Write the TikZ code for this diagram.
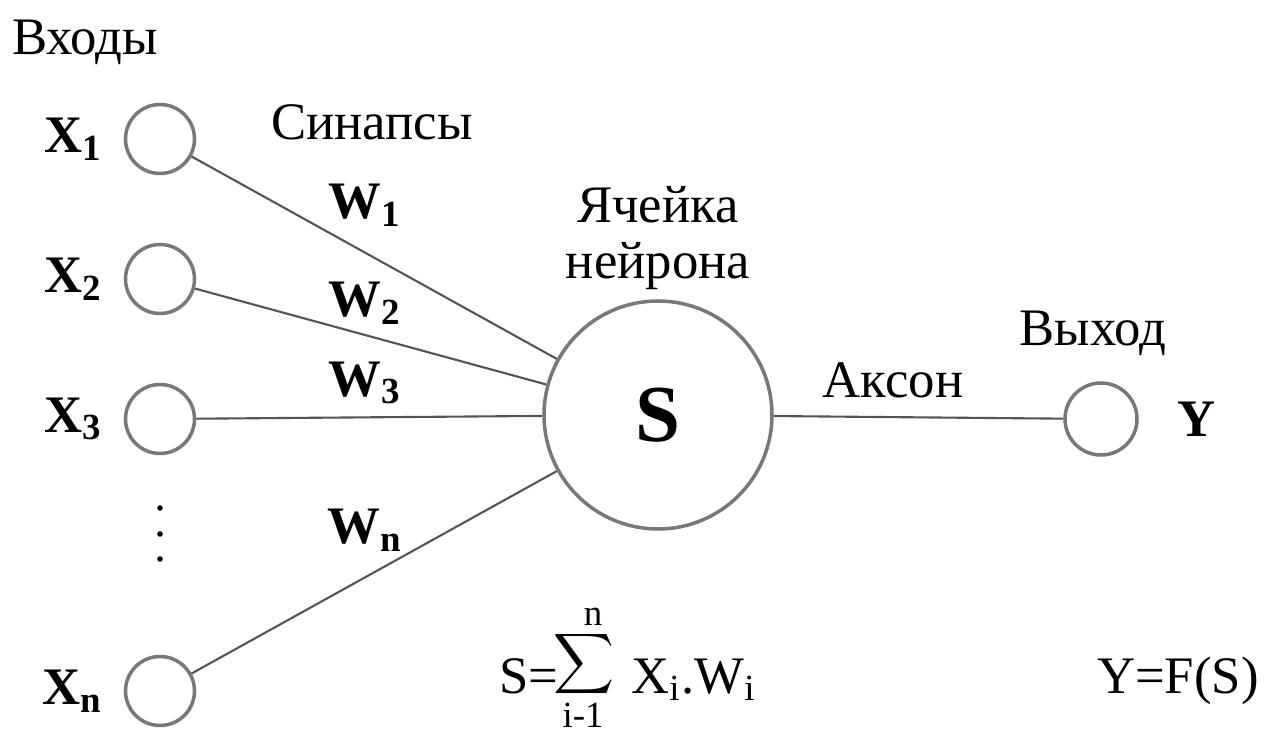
\documentclass[tikz,border=0pt]{standalone}
\usepackage{amsmath}
\usepackage{fontspec}
\setmainfont{Liberation Serif}
\usepackage{tikz}
\usetikzlibrary{positioning}
\definecolor{ringgray}{RGB}{120,120,120}
\definecolor{wiregray}{RGB}{85,85,85}

\begin{document}
\begin{tikzpicture}[thick,
    every node/.style={font=\fontsize{15}{16}\selectfont},
    inp/.style={circle, draw=ringgray, line width=1pt, inner sep=0pt, minimum size=0.69cm},
    wire/.style={draw=wiregray, line width=0.6pt},
    wlabel/.style={font=\fontsize{15}{16}\selectfont\bfseries},
    lim/.style={font=\fontsize{10.5}{12}\selectfont, inner sep=0pt}]
    \useasboundingbox (0,0) rectangle (12.64,7.30);
    % Inputs
    \node[inp] (x1) at (1.60,5.91) {};
    \node[inp] (x2) at (1.60,4.51) {};
    \node[inp] (x3) at (1.60,3.11) {};
    \node[inp] (xn) at (1.60,0.39) {};
    \node[wlabel, left=0.08cm of x1] (lx1) {X\textsubscript{1}};
    \node[wlabel, left=0.08cm of x2] (lx2) {X\textsubscript{2}};
    \node[wlabel, left=0.08cm of x3] (lx3) {X\textsubscript{3}};
    \node[wlabel, left=0.08cm of xn] (lxn) {X\textsubscript{n}};
    \fill (1.60,2.22) circle (0.028); \fill (1.60,1.96) circle (0.028); \fill (1.60,1.71) circle (0.028);
    \node (inputs) at (0.85,6.88) {Входы};
    % Neuron cell and output
    \node[inp, minimum size=2.28cm] (cell) at (6.58,3.15) {};
    \node[font=\fontsize{23}{28}\selectfont\bfseries] (s) at (cell) {S};
    \node[inp, minimum size=0.72cm] (y) at (11.01,3.11) {};
    \node[wlabel, right=0.26cm of y] (ly) {Y};
    \node[align=center] (celltxt) at (6.58,4.92) {Ячейка\\нейрона};
    \node (output) at (10.93,3.97) {Выход};
    % Synapses and axon
    \draw[wire] (x1) -- (cell);
    \draw[wire] (x2) -- (cell);
    \draw[wire] (x3) -- (cell);
    \draw[wire] (xn) -- (cell);
    \draw[wire] (cell) -- (y);
    \node (syn) at (3.72,6.08) {Синапсы};
    \node[wlabel] (w1) at (3.65,5.25) {W\textsubscript{1}};
    \node[wlabel] (w2) at (3.65,4.27) {W\textsubscript{2}};
    \node[wlabel] (w3) at (3.65,3.47) {W\textsubscript{3}};
    \node[wlabel] (wn) at (3.65,2.00) {W\textsubscript{n}};
    \node (axon) at (8.93,3.50) {Аксон};
    % Formulas
    \node[anchor=base east, inner sep=0pt] (seq) at (5.60,0.37) {S=};
    \node[inner sep=0pt, font=\fontsize{12.5}{14}\selectfont] (sigma) at (5.84,0.66) {$\displaystyle\sum$};
    \node[lim] (upper) at (5.93,1.13) {n};
    \node[lim] (lower) at (5.83,0.15) {i-1};
    \node[anchor=base west, inner sep=0pt] (xw) at (6.30,0.37) {X\textsubscript{i}.W\textsubscript{i}};
    \node[anchor=base east, inner sep=0pt] (func) at (12.60,0.37) {Y=F(S)};
\end{tikzpicture}
\end{document}
